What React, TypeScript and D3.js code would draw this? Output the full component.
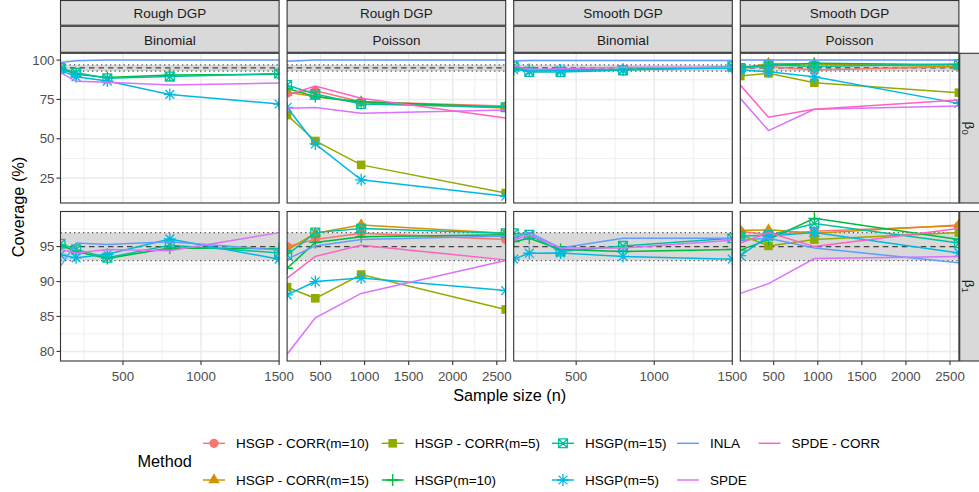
import React from 'react';
import * as d3 from 'd3';

// chart values
const methods = ['HSGP - CORR(m=10)', 'HSGP - CORR(m=15)', 'HSGP - CORR(m=5)', 'HSGP(m=10)', 'HSGP(m=15)', 'HSGP(m=5)', 'INLA', 'SPDE', 'SPDE - CORR'];
const methodColors = ['#F8766D', '#D39200', '#93AA00', '#00BA38', '#00C19F', '#00B9E3', '#619CFF', '#DB72FB', '#FF61C3'];
const methodShapes = ['circle', 'triangle', 'square', 'plus', 'boxcross', 'asterisk', '', '', ''];

const dgpLabels = ['Rough DGP', 'Rough DGP', 'Smooth DGP', 'Smooth DGP'];
const familyLabels = ['Binomial', 'Poisson', 'Binomial', 'Poisson'];
const paramSubs = ['0', '1'];

const nBinomial = [100, 200, 400, 800, 1500];
const nPoisson = [121, 441, 961, 2601];

const binomialTicks = [500, 1000, 1500];
const poissonTicks = [500, 1000, 1500, 2000, 2500];
const b0Ticks = [25, 50, 75, 100];
const b1Ticks = [80, 85, 90, 95];

// nominal level and Monte Carlo band
const nominal = 95;
const bandLow = 93;
const bandHigh = 97;

type Series = { [method: string]: number[] };

const roughBinomialB0: Series = {
  'HSGP(m=10)': [94.5, 91, 89, 90.5, 91],
  'HSGP(m=15)': [95, 92, 88.5, 89.5, 91.5],
  'HSGP(m=5)': [93.5, 89.4, 86.7, 78.2, 72.1],
  'INLA': [98.5, 99.6, 100, 100, 100],
  'SPDE': [92, 86.5, 86, 84.1, 85.5],
};
const roughBinomialB1: Series = {
  'HSGP(m=10)': [95.2, 94.3, 93.3, 94.8, 94.7],
  'HSGP(m=15)': [95.4, 94.6, 93.4, 95.2, 94.1],
  'HSGP(m=5)': [93.8, 93.4, 93.9, 96.1, 93.2],
  'INLA': [92.2, 95.5, 95.3, 95.7, 94.5],
  'SPDE': [94.6, 94.1, 94.6, 94.4, 97],
};
const roughPoissonB0: Series = {
  'HSGP - CORR(m=10)': [78.9, 80.5, 73.6, 70.8],
  'HSGP - CORR(m=15)': [79.5, 76.8, 72.9, 69.5],
  'HSGP - CORR(m=5)': [65.1, 48.6, 33.4, 15.5],
  'HSGP(m=10)': [82, 76.8, 73.6, 70],
  'HSGP(m=15)': [84.1, 78.4, 72.1, 70],
  'HSGP(m=5)': [70, 46.7, 23.9, 13.5],
  'INLA': [99.3, 100, 100, 100],
  'SPDE': [69.4, 69.8, 66.2, 68.3],
  'SPDE - CORR': [77.8, 83.5, 75.7, 63.2],
};
const roughPoissonB1: Series = {
  'HSGP - CORR(m=10)': [95, 96, 96.9, 96],
  'HSGP - CORR(m=15)': [94.5, 96.9, 98.1, 96.9],
  'HSGP - CORR(m=5)': [89.2, 87.6, 91, 86],
  'HSGP(m=10)': [91.9, 95.6, 96.4, 96.7],
  'HSGP(m=15)': [93.8, 97, 97.6, 96.9],
  'HSGP(m=5)': [88.1, 90, 90.5, 88.7],
  'INLA': [93.2, 95.1, 96, 96.5],
  'SPDE': [79.6, 84.8, 88.3, 93],
  'SPDE - CORR': [90.5, 93.6, 95.2, 93.1],
};
const smoothBinomialB0: Series = {
  'HSGP(m=10)': [95.5, 94, 93.5, 94, 95.5],
  'HSGP(m=15)': [96, 92.5, 92.5, 93.5, 96],
  'HSGP(m=5)': [94, 93, 93.5, 94, 95],
  'INLA': [99.5, 99.8, 99.8, 99.8, 99.8],
  'SPDE': [96.5, 94, 94.5, 95.5, 95.5],
};
const smoothBinomialB1: Series = {
  'HSGP(m=10)': [95.7, 96.2, 94.6, 94.3, 94.6],
  'HSGP(m=15)': [96.9, 96.7, 94.3, 95.1, 96.2],
  'HSGP(m=5)': [93.2, 94.05, 94.1, 93.6, 93.2],
  'INLA': [96.2, 97, 94.8, 96.2, 96.2],
  'SPDE': [95.9, 96.7, 94.8, 94.8, 95.9],
};
const smoothPoissonB0: Series = {
  'HSGP - CORR(m=10)': [95, 96, 93.7, 96],
  'HSGP - CORR(m=15)': [94.5, 97.9, 97.5, 95.8],
  'HSGP - CORR(m=5)': [89.9, 91.6, 85.6, 79.3],
  'HSGP(m=10)': [95.5, 96.5, 98, 97],
  'HSGP(m=15)': [95, 97, 96, 97.5],
  'HSGP(m=5)': [93.7, 92.6, 89.4, 72.5],
  'INLA': [100, 100, 100, 100],
  'SPDE': [75.7, 55.2, 68.7, 70.8],
  'SPDE - CORR': [84.1, 63.7, 68.7, 74.6],
};
const smoothPoissonB1: Series = {
  'HSGP - CORR(m=10)': [97.2, 96.7, 97.2, 98],
  'HSGP - CORR(m=15)': [97.3, 97.4, 96.9, 98.1],
  'HSGP - CORR(m=5)': [96.7, 95.1, 96, 97],
  'HSGP(m=10)': [94.5, 96, 99.05, 96],
  'HSGP(m=15)': [96.5, 96.6, 98.3, 95.5],
  'HSGP(m=5)': [93.7, 96.5, 97, 94.1],
  'INLA': [95.9, 96.2, 94.8, 92.7],
  'SPDE': [88.3, 89.7, 93.3, 93.6],
  'SPDE - CORR': [95.5, 97, 95, 97.6],
};

const columnN = [nBinomial, nPoisson, nBinomial, nPoisson];
const columnTicks = [binomialTicks, poissonTicks, binomialTicks, poissonTicks];
const rowTicks = [b0Ticks, b1Ticks];
const panelData: Series[][] = [
  [roughBinomialB0, roughPoissonB0, smoothBinomialB0, smoothPoissonB0],
  [roughBinomialB1, roughPoissonB1, smoothBinomialB1, smoothPoissonB1],
];

// layout
const FONT = '"Liberation Sans", Arial, Helvetica, sans-serif';
const panelLeft = 60.5;
const panelW = 218.6;
const panelGap = 8;
const rowTop = [53.3, 211.5];
const rowH = [149.7, 149.5];
const colX = [0, 1, 2, 3].map(i => panelLeft + i * (panelW + panelGap));
const LW = 1.5;

const Marker = ({ shape, x, y, color }: { shape: string; x: number; y: number; color: string }) => {
  const sw = 1.3;
  if (shape === 'circle') return <circle cx={x} cy={y} r={4.6} fill={color} />;
  if (shape === 'square') return <rect x={x - 4.3} y={y - 4.3} width={8.6} height={8.6} fill={color} />;
  if (shape === 'triangle')
    return <path d={d3.symbol(d3.symbolTriangle, 58)() || ''} transform={`translate(${x},${y})`} fill={color} />;
  if (shape === 'plus')
    return <path d={`M${x - 6},${y}H${x + 6}M${x},${y - 6}V${y + 6}`} stroke={color} strokeWidth={sw} fill="none" />;
  if (shape === 'boxcross') {
    const h = 4.4;
    return (
      <path
        d={`M${x - h},${y - h}H${x + h}V${y + h}H${x - h}ZM${x - h},${y - h}L${x + h},${y + h}M${x + h},${y - h}L${x - h},${y + h}`}
        stroke={color} strokeWidth={sw} fill="none"
      />
    );
  }
  if (shape === 'asterisk') {
    const a = 6, d = 4.4;
    return (
      <path
        d={`M${x - a},${y}H${x + a}M${x},${y - a}V${y + a}M${x - d},${y - d}L${x + d},${y + d}M${x + d},${y - d}L${x - d},${y + d}`}
        stroke={color} strokeWidth={sw} fill="none"
      />
    );
  }
  return null;
};

const Panel = ({ row, col, yScale }: { row: number; col: number; yScale: d3.ScaleLinear<number, number> }) => {
  const ns = columnN[col];
  const x0 = colX[col], y0 = rowTop[row], h = rowH[row];
  const xScale = d3.scaleLinear().domain([ns[0], ns[ns.length - 1]]).range([0, panelW]);
  const majorX = columnTicks[col];
  const minorX = d3.range(250, ns[ns.length - 1], 500).filter(v => v > ns[0]);
  const majorY = rowTicks[row];
  const step = majorY[1] - majorY[0];
  const minorY = d3.range(majorY[0] - step / 2, majorY[majorY.length - 1] + step, step)
    .filter(v => v > yScale.domain()[0] && v < yScale.domain()[1]);
  const data = panelData[row][col];
  const line = d3.line<number>().x((_, i) => xScale(ns[i])).y(v => yScale(v));
  const clipId = `clip-${row}-${col}`;

  return (
    <g transform={`translate(${x0},${y0})`}>
      <defs>
        <clipPath id={clipId}><rect x={0} y={0} width={panelW} height={h} /></clipPath>
      </defs>
      <rect x={0} y={0} width={panelW} height={h} fill="#fff" />
      {minorX.map(v => <line key={'mx' + v} x1={xScale(v)} x2={xScale(v)} y1={0} y2={h} stroke="#EBEBEB" strokeWidth={0.8} />)}
      {minorY.map(v => <line key={'my' + v} y1={yScale(v)} y2={yScale(v)} x1={0} x2={panelW} stroke="#EBEBEB" strokeWidth={0.8} />)}
      {majorX.map(v => <line key={'Mx' + v} x1={xScale(v)} x2={xScale(v)} y1={0} y2={h} stroke="#EBEBEB" strokeWidth={1.5} />)}
      {majorY.map(v => <line key={'My' + v} y1={yScale(v)} y2={yScale(v)} x1={0} x2={panelW} stroke="#EBEBEB" strokeWidth={1.5} />)}
      <rect x={0} y={yScale(bandHigh)} width={panelW} height={yScale(bandLow) - yScale(bandHigh)} fill="#D9D9D9" />
      <line x1={0} x2={panelW} y1={yScale(bandHigh)} y2={yScale(bandHigh)} stroke="#555" strokeWidth={1.3} strokeDasharray="1.3,3.2" />
      <line x1={0} x2={panelW} y1={yScale(bandLow)} y2={yScale(bandLow)} stroke="#555" strokeWidth={1.3} strokeDasharray="1.3,3.2" />
      <line x1={0} x2={panelW} y1={yScale(nominal)} y2={yScale(nominal)} stroke="#444" strokeWidth={1.3} strokeDasharray="5.5,4" />
      <g clipPath={`url(#${clipId})`}>
        {methods.map((m, mi) => data[m] && (
          <g key={m}>
            <path d={line(data[m]) || ''} fill="none" stroke={methodColors[mi]} strokeWidth={LW} />
            {methodShapes[mi] && data[m].map((v, i) => (
              <Marker key={i} shape={methodShapes[mi]} x={xScale(ns[i])} y={yScale(v)} color={methodColors[mi]} />
            ))}
          </g>
        ))}
      </g>
      <rect x={0} y={0} width={panelW} height={h} fill="none" stroke="#333" strokeWidth={1.1} />
      {col === 0 && majorY.map(v => (
        <g key={'yt' + v}>
          <line x1={-4} x2={0} y1={yScale(v)} y2={yScale(v)} stroke="#333" strokeWidth={1.1} />
          <text x={-6} y={yScale(v)} dy="0.35em" textAnchor="end" fontSize={13.3} fill="#4D4D4D">{v}</text>
        </g>
      ))}
      {row === 1 && majorX.map(v => (
        <g key={'xt' + v}>
          <line x1={xScale(v)} x2={xScale(v)} y1={h} y2={h + 4} stroke="#333" strokeWidth={1.1} />
          <text x={xScale(v)} y={h + 15.5} dy="0.35em" textAnchor="middle" fontSize={13.3} fill="#4D4D4D">{v}</text>
        </g>
      ))}
    </g>
  );
};

const legendCols = [214, 392.7, 563, 688, 769.5];
const legendRows = [443.3, 480];

const App = () => {
  const yScales = [0, 1].map(r => {
    const vals = panelData[r].flatMap(s => Object.values(s).flat());
    const lo = d3.min(vals) as number, hi = d3.max(vals) as number;
    const pad = (hi - lo) * 0.05;
    return d3.scaleLinear().domain([lo - pad, hi + pad]).range([rowH[r], 0]);
  });

  return (
    <svg width={979} height={492} style={{ position: 'absolute', left: 0, top: 0, background: '#fff' }} fontFamily={FONT}>
      <rect x={0} y={0} width={979} height={492} fill="#fff" />
      {/* column strips */}
      {colX.map((x, c) => (
        <g key={'strip' + c}>
          <rect x={x} y={0.5} width={panelW} height={24.7} fill="#D9D9D9" stroke="#333" strokeWidth={1.1} />
          <text x={x + panelW / 2} y={12.8} dy="0.35em" textAnchor="middle" fontSize={13.5} fill="#1A1A1A">{dgpLabels[c]}</text>
          <rect x={x} y={26.3} width={panelW} height={26} fill="#D9D9D9" stroke="#333" strokeWidth={1.1} />
          <text x={x + panelW / 2} y={39.8} dy="0.35em" textAnchor="middle" fontSize={13.5} fill="#1A1A1A">{familyLabels[c]}</text>
        </g>
      ))}
      {/* row strips */}
      {rowTop.map((y, r) => (
        <g key={'rstrip' + r}>
          <rect x={colX[3] + panelW + 0.8} y={y} width={30} height={rowH[r]} fill="#D9D9D9" stroke="#333" strokeWidth={1.1} />
          <text transform={`translate(${colX[3] + panelW + 6}, ${y + rowH[r] / 2}) rotate(90)`} textAnchor="middle" fontSize={13.5} fill="#1A1A1A">
            β<tspan fontSize={9.5} dy="3">{paramSubs[r]}</tspan>
          </text>
        </g>
      ))}
      {[0, 1].map(r => [0, 1, 2, 3].map(c => <Panel key={`${r}-${c}`} row={r} col={c} yScale={yScales[r]} />))}
      {/* axis titles */}
      <text transform="translate(18.5,207) rotate(-90)" textAnchor="middle" dy="0.35em" fontSize={16.3} fill="#000">Coverage (%)</text>
      <text x={(colX[0] + colX[3] + panelW) / 2} y={395.7} dy="0.35em" textAnchor="middle" fontSize={16.3} fill="#000">Sample size (n)</text>
      {/* legend */}
      <text x={137.5} y={461.7} dy="0.35em" fontSize={16.3} fill="#000">Method</text>
      {methods.map((m, i) => {
        const cx = legendCols[Math.floor(i / 2)];
        const cy = legendRows[i % 2];
        return (
          <g key={'lg' + m}>
            <line x1={cx - 11} x2={cx + 11} y1={cy} y2={cy} stroke={methodColors[i]} strokeWidth={LW} />
            {methodShapes[i] && <Marker shape={methodShapes[i]} x={cx} y={cy} color={methodColors[i]} />}
            <text x={cx + 22} y={cy} dy="0.35em" fontSize={13.5} fill="#000">{m}</text>
          </g>
        );
      })}
    </svg>
  );
};

export default App;
